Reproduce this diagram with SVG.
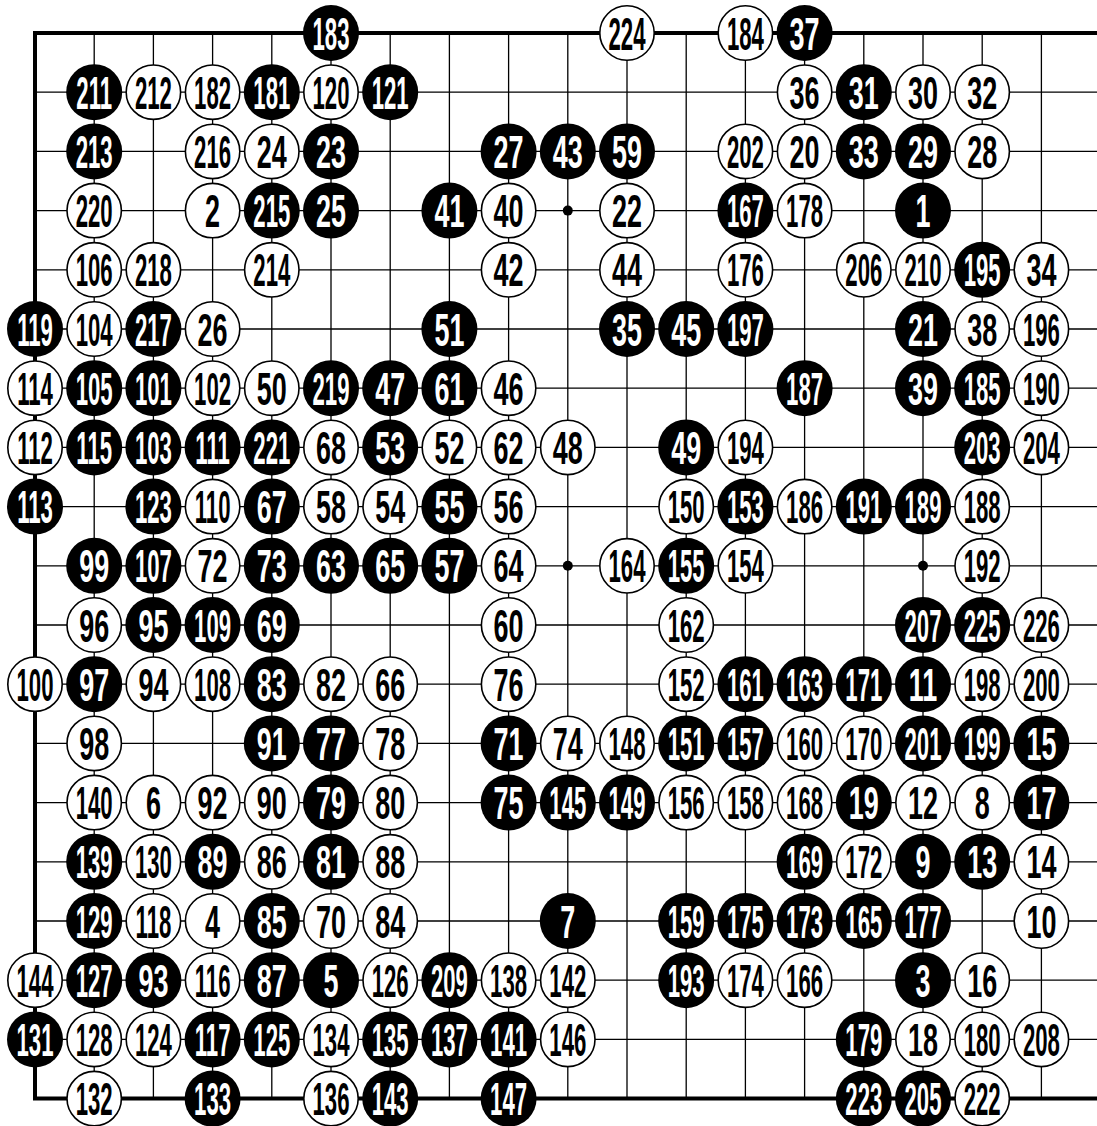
<svg xmlns="http://www.w3.org/2000/svg" width="1097" height="1126" viewBox="0 0 1097 1126">
<style>
.grid{fill:none;stroke:#000;stroke-width:1.3}
.edge{fill:none;stroke:#000;stroke-width:4}
.hoshi{fill:#000}
.b circle{fill:#000}
.w circle{fill:#fff;stroke:#000;stroke-width:1.6}
text{font-family:"Liberation Sans",Arial,sans-serif;font-weight:bold;font-size:46px;text-anchor:middle}
.b text{fill:#fff}
.w text{fill:#000}
.n1 text,.n2 text{transform:scale(0.586,1)}
.n3 text{transform:scale(0.482,1)}
</style>
<rect width="1097" height="1126" fill="#fff"/>
<g id="board">
<path class="grid" d="M35 92.2H1101M35 151.4H1101M35 210.6H1101M35 269.8H1101M35 329H1101M35 388.2H1101M35 447.4H1101M35 506.6H1101M35 565.8H1101M35 625H1101M35 684.2H1101M35 743.4H1101M35 802.6H1101M35 861.8H1101M35 921H1101M35 980.2H1101M35 1039.4H1101M94.2 33V1098.6M153.4 33V1098.6M212.6 33V1098.6M271.8 33V1098.6M331 33V1098.6M390.2 33V1098.6M449.4 33V1098.6M508.6 33V1098.6M567.8 33V1098.6M627 33V1098.6M686.2 33V1098.6M745.4 33V1098.6M804.6 33V1098.6M863.8 33V1098.6M923 33V1098.6M982.2 33V1098.6M1041.4 33V1098.6"/>
<path class="edge" d="M1104 33H35V1098.6H1104"/>
<circle class="hoshi" cx="212.6" cy="210.6" r="5"/><circle class="hoshi" cx="567.8" cy="210.6" r="5"/><circle class="hoshi" cx="923" cy="210.6" r="5"/>
<circle class="hoshi" cx="212.6" cy="565.8" r="5"/><circle class="hoshi" cx="567.8" cy="565.8" r="5"/><circle class="hoshi" cx="923" cy="565.8" r="5"/>
<circle class="hoshi" cx="212.6" cy="921" r="5"/><circle class="hoshi" cx="567.8" cy="921" r="5"/><circle class="hoshi" cx="923" cy="921" r="5"/>
</g>
<g id="stones">
<g id="m183" class="b n3" transform="translate(331,33)"><circle r="28"/><text y="16.5">183</text></g>
<g id="m224" class="w n3" transform="translate(627,33)"><circle r="27.2"/><text y="16.5">224</text></g>
<g id="m184" class="w n3" transform="translate(745.4,33)"><circle r="27.2"/><text y="16.5">184</text></g>
<g id="m37" class="b n2" transform="translate(804.6,33)"><circle r="28"/><text y="16.5">37</text></g>
<g id="m211" class="b n3" transform="translate(94.2,92.2)"><circle r="28"/><text y="16.5">211</text></g>
<g id="m212" class="w n3" transform="translate(153.4,92.2)"><circle r="27.2"/><text y="16.5">212</text></g>
<g id="m182" class="w n3" transform="translate(212.6,92.2)"><circle r="27.2"/><text y="16.5">182</text></g>
<g id="m181" class="b n3" transform="translate(271.8,92.2)"><circle r="28"/><text y="16.5">181</text></g>
<g id="m120" class="w n3" transform="translate(331,92.2)"><circle r="27.2"/><text y="16.5">120</text></g>
<g id="m121" class="b n3" transform="translate(390.2,92.2)"><circle r="28"/><text y="16.5">121</text></g>
<g id="m36" class="w n2" transform="translate(804.6,92.2)"><circle r="27.2"/><text y="16.5">36</text></g>
<g id="m31" class="b n2" transform="translate(863.8,92.2)"><circle r="28"/><text y="16.5">31</text></g>
<g id="m30" class="w n2" transform="translate(923,92.2)"><circle r="27.2"/><text y="16.5">30</text></g>
<g id="m32" class="w n2" transform="translate(982.2,92.2)"><circle r="27.2"/><text y="16.5">32</text></g>
<g id="m213" class="b n3" transform="translate(94.2,151.4)"><circle r="28"/><text y="16.5">213</text></g>
<g id="m216" class="w n3" transform="translate(212.6,151.4)"><circle r="27.2"/><text y="16.5">216</text></g>
<g id="m24" class="w n2" transform="translate(271.8,151.4)"><circle r="27.2"/><text y="16.5">24</text></g>
<g id="m23" class="b n2" transform="translate(331,151.4)"><circle r="28"/><text y="16.5">23</text></g>
<g id="m27" class="b n2" transform="translate(508.6,151.4)"><circle r="28"/><text y="16.5">27</text></g>
<g id="m43" class="b n2" transform="translate(567.8,151.4)"><circle r="28"/><text y="16.5">43</text></g>
<g id="m59" class="b n2" transform="translate(627,151.4)"><circle r="28"/><text y="16.5">59</text></g>
<g id="m202" class="w n3" transform="translate(745.4,151.4)"><circle r="27.2"/><text y="16.5">202</text></g>
<g id="m20" class="w n2" transform="translate(804.6,151.4)"><circle r="27.2"/><text y="16.5">20</text></g>
<g id="m33" class="b n2" transform="translate(863.8,151.4)"><circle r="28"/><text y="16.5">33</text></g>
<g id="m29" class="b n2" transform="translate(923,151.4)"><circle r="28"/><text y="16.5">29</text></g>
<g id="m28" class="w n2" transform="translate(982.2,151.4)"><circle r="27.2"/><text y="16.5">28</text></g>
<g id="m220" class="w n3" transform="translate(94.2,210.6)"><circle r="27.2"/><text y="16.5">220</text></g>
<g id="m2" class="w n1" transform="translate(212.6,210.6)"><circle r="27.2"/><text y="16.5">2</text></g>
<g id="m215" class="b n3" transform="translate(271.8,210.6)"><circle r="28"/><text y="16.5">215</text></g>
<g id="m25" class="b n2" transform="translate(331,210.6)"><circle r="28"/><text y="16.5">25</text></g>
<g id="m41" class="b n2" transform="translate(449.4,210.6)"><circle r="28"/><text y="16.5">41</text></g>
<g id="m40" class="w n2" transform="translate(508.6,210.6)"><circle r="27.2"/><text y="16.5">40</text></g>
<g id="m22" class="w n2" transform="translate(627,210.6)"><circle r="27.2"/><text y="16.5">22</text></g>
<g id="m167" class="b n3" transform="translate(745.4,210.6)"><circle r="28"/><text y="16.5">167</text></g>
<g id="m178" class="w n3" transform="translate(804.6,210.6)"><circle r="27.2"/><text y="16.5">178</text></g>
<g id="m1" class="b n1" transform="translate(923,210.6)"><circle r="28"/><text y="16.5">1</text></g>
<g id="m106" class="w n3" transform="translate(94.2,269.8)"><circle r="27.2"/><text y="16.5">106</text></g>
<g id="m218" class="w n3" transform="translate(153.4,269.8)"><circle r="27.2"/><text y="16.5">218</text></g>
<g id="m214" class="w n3" transform="translate(271.8,269.8)"><circle r="27.2"/><text y="16.5">214</text></g>
<g id="m42" class="w n2" transform="translate(508.6,269.8)"><circle r="27.2"/><text y="16.5">42</text></g>
<g id="m44" class="w n2" transform="translate(627,269.8)"><circle r="27.2"/><text y="16.5">44</text></g>
<g id="m176" class="w n3" transform="translate(745.4,269.8)"><circle r="27.2"/><text y="16.5">176</text></g>
<g id="m206" class="w n3" transform="translate(863.8,269.8)"><circle r="27.2"/><text y="16.5">206</text></g>
<g id="m210" class="w n3" transform="translate(923,269.8)"><circle r="27.2"/><text y="16.5">210</text></g>
<g id="m195" class="b n3" transform="translate(982.2,269.8)"><circle r="28"/><text y="16.5">195</text></g>
<g id="m34" class="w n2" transform="translate(1041.4,269.8)"><circle r="27.2"/><text y="16.5">34</text></g>
<g id="m119" class="b n3" transform="translate(35,329)"><circle r="28"/><text y="16.5">119</text></g>
<g id="m104" class="w n3" transform="translate(94.2,329)"><circle r="27.2"/><text y="16.5">104</text></g>
<g id="m217" class="b n3" transform="translate(153.4,329)"><circle r="28"/><text y="16.5">217</text></g>
<g id="m26" class="w n2" transform="translate(212.6,329)"><circle r="27.2"/><text y="16.5">26</text></g>
<g id="m51" class="b n2" transform="translate(449.4,329)"><circle r="28"/><text y="16.5">51</text></g>
<g id="m35" class="b n2" transform="translate(627,329)"><circle r="28"/><text y="16.5">35</text></g>
<g id="m45" class="b n2" transform="translate(686.2,329)"><circle r="28"/><text y="16.5">45</text></g>
<g id="m197" class="b n3" transform="translate(745.4,329)"><circle r="28"/><text y="16.5">197</text></g>
<g id="m21" class="b n2" transform="translate(923,329)"><circle r="28"/><text y="16.5">21</text></g>
<g id="m38" class="w n2" transform="translate(982.2,329)"><circle r="27.2"/><text y="16.5">38</text></g>
<g id="m196" class="w n3" transform="translate(1041.4,329)"><circle r="27.2"/><text y="16.5">196</text></g>
<g id="m114" class="w n3" transform="translate(35,388.2)"><circle r="27.2"/><text y="16.5">114</text></g>
<g id="m105" class="b n3" transform="translate(94.2,388.2)"><circle r="28"/><text y="16.5">105</text></g>
<g id="m101" class="b n3" transform="translate(153.4,388.2)"><circle r="28"/><text y="16.5">101</text></g>
<g id="m102" class="w n3" transform="translate(212.6,388.2)"><circle r="27.2"/><text y="16.5">102</text></g>
<g id="m50" class="w n2" transform="translate(271.8,388.2)"><circle r="27.2"/><text y="16.5">50</text></g>
<g id="m219" class="b n3" transform="translate(331,388.2)"><circle r="28"/><text y="16.5">219</text></g>
<g id="m47" class="b n2" transform="translate(390.2,388.2)"><circle r="28"/><text y="16.5">47</text></g>
<g id="m61" class="b n2" transform="translate(449.4,388.2)"><circle r="28"/><text y="16.5">61</text></g>
<g id="m46" class="w n2" transform="translate(508.6,388.2)"><circle r="27.2"/><text y="16.5">46</text></g>
<g id="m187" class="b n3" transform="translate(804.6,388.2)"><circle r="28"/><text y="16.5">187</text></g>
<g id="m39" class="b n2" transform="translate(923,388.2)"><circle r="28"/><text y="16.5">39</text></g>
<g id="m185" class="b n3" transform="translate(982.2,388.2)"><circle r="28"/><text y="16.5">185</text></g>
<g id="m190" class="w n3" transform="translate(1041.4,388.2)"><circle r="27.2"/><text y="16.5">190</text></g>
<g id="m112" class="w n3" transform="translate(35,447.4)"><circle r="27.2"/><text y="16.5">112</text></g>
<g id="m115" class="b n3" transform="translate(94.2,447.4)"><circle r="28"/><text y="16.5">115</text></g>
<g id="m103" class="b n3" transform="translate(153.4,447.4)"><circle r="28"/><text y="16.5">103</text></g>
<g id="m111" class="b n3" transform="translate(212.6,447.4)"><circle r="28"/><text y="16.5">111</text></g>
<g id="m221" class="b n3" transform="translate(271.8,447.4)"><circle r="28"/><text y="16.5">221</text></g>
<g id="m68" class="w n2" transform="translate(331,447.4)"><circle r="27.2"/><text y="16.5">68</text></g>
<g id="m53" class="b n2" transform="translate(390.2,447.4)"><circle r="28"/><text y="16.5">53</text></g>
<g id="m52" class="w n2" transform="translate(449.4,447.4)"><circle r="27.2"/><text y="16.5">52</text></g>
<g id="m62" class="w n2" transform="translate(508.6,447.4)"><circle r="27.2"/><text y="16.5">62</text></g>
<g id="m48" class="w n2" transform="translate(567.8,447.4)"><circle r="27.2"/><text y="16.5">48</text></g>
<g id="m49" class="b n2" transform="translate(686.2,447.4)"><circle r="28"/><text y="16.5">49</text></g>
<g id="m194" class="w n3" transform="translate(745.4,447.4)"><circle r="27.2"/><text y="16.5">194</text></g>
<g id="m203" class="b n3" transform="translate(982.2,447.4)"><circle r="28"/><text y="16.5">203</text></g>
<g id="m204" class="w n3" transform="translate(1041.4,447.4)"><circle r="27.2"/><text y="16.5">204</text></g>
<g id="m113" class="b n3" transform="translate(35,506.6)"><circle r="28"/><text y="16.5">113</text></g>
<g id="m123" class="b n3" transform="translate(153.4,506.6)"><circle r="28"/><text y="16.5">123</text></g>
<g id="m110" class="w n3" transform="translate(212.6,506.6)"><circle r="27.2"/><text y="16.5">110</text></g>
<g id="m67" class="b n2" transform="translate(271.8,506.6)"><circle r="28"/><text y="16.5">67</text></g>
<g id="m58" class="w n2" transform="translate(331,506.6)"><circle r="27.2"/><text y="16.5">58</text></g>
<g id="m54" class="w n2" transform="translate(390.2,506.6)"><circle r="27.2"/><text y="16.5">54</text></g>
<g id="m55" class="b n2" transform="translate(449.4,506.6)"><circle r="28"/><text y="16.5">55</text></g>
<g id="m56" class="w n2" transform="translate(508.6,506.6)"><circle r="27.2"/><text y="16.5">56</text></g>
<g id="m150" class="w n3" transform="translate(686.2,506.6)"><circle r="27.2"/><text y="16.5">150</text></g>
<g id="m153" class="b n3" transform="translate(745.4,506.6)"><circle r="28"/><text y="16.5">153</text></g>
<g id="m186" class="w n3" transform="translate(804.6,506.6)"><circle r="27.2"/><text y="16.5">186</text></g>
<g id="m191" class="b n3" transform="translate(863.8,506.6)"><circle r="28"/><text y="16.5">191</text></g>
<g id="m189" class="b n3" transform="translate(923,506.6)"><circle r="28"/><text y="16.5">189</text></g>
<g id="m188" class="w n3" transform="translate(982.2,506.6)"><circle r="27.2"/><text y="16.5">188</text></g>
<g id="m99" class="b n2" transform="translate(94.2,565.8)"><circle r="28"/><text y="16.5">99</text></g>
<g id="m107" class="b n3" transform="translate(153.4,565.8)"><circle r="28"/><text y="16.5">107</text></g>
<g id="m72" class="w n2" transform="translate(212.6,565.8)"><circle r="27.2"/><text y="16.5">72</text></g>
<g id="m73" class="b n2" transform="translate(271.8,565.8)"><circle r="28"/><text y="16.5">73</text></g>
<g id="m63" class="b n2" transform="translate(331,565.8)"><circle r="28"/><text y="16.5">63</text></g>
<g id="m65" class="b n2" transform="translate(390.2,565.8)"><circle r="28"/><text y="16.5">65</text></g>
<g id="m57" class="b n2" transform="translate(449.4,565.8)"><circle r="28"/><text y="16.5">57</text></g>
<g id="m64" class="w n2" transform="translate(508.6,565.8)"><circle r="27.2"/><text y="16.5">64</text></g>
<g id="m164" class="w n3" transform="translate(627,565.8)"><circle r="27.2"/><text y="16.5">164</text></g>
<g id="m155" class="b n3" transform="translate(686.2,565.8)"><circle r="28"/><text y="16.5">155</text></g>
<g id="m154" class="w n3" transform="translate(745.4,565.8)"><circle r="27.2"/><text y="16.5">154</text></g>
<g id="m192" class="w n3" transform="translate(982.2,565.8)"><circle r="27.2"/><text y="16.5">192</text></g>
<g id="m96" class="w n2" transform="translate(94.2,625)"><circle r="27.2"/><text y="16.5">96</text></g>
<g id="m95" class="b n2" transform="translate(153.4,625)"><circle r="28"/><text y="16.5">95</text></g>
<g id="m109" class="b n3" transform="translate(212.6,625)"><circle r="28"/><text y="16.5">109</text></g>
<g id="m69" class="b n2" transform="translate(271.8,625)"><circle r="28"/><text y="16.5">69</text></g>
<g id="m60" class="w n2" transform="translate(508.6,625)"><circle r="27.2"/><text y="16.5">60</text></g>
<g id="m162" class="w n3" transform="translate(686.2,625)"><circle r="27.2"/><text y="16.5">162</text></g>
<g id="m207" class="b n3" transform="translate(923,625)"><circle r="28"/><text y="16.5">207</text></g>
<g id="m225" class="b n3" transform="translate(982.2,625)"><circle r="28"/><text y="16.5">225</text></g>
<g id="m226" class="w n3" transform="translate(1041.4,625)"><circle r="27.2"/><text y="16.5">226</text></g>
<g id="m100" class="w n3" transform="translate(35,684.2)"><circle r="27.2"/><text y="16.5">100</text></g>
<g id="m97" class="b n2" transform="translate(94.2,684.2)"><circle r="28"/><text y="16.5">97</text></g>
<g id="m94" class="w n2" transform="translate(153.4,684.2)"><circle r="27.2"/><text y="16.5">94</text></g>
<g id="m108" class="w n3" transform="translate(212.6,684.2)"><circle r="27.2"/><text y="16.5">108</text></g>
<g id="m83" class="b n2" transform="translate(271.8,684.2)"><circle r="28"/><text y="16.5">83</text></g>
<g id="m82" class="w n2" transform="translate(331,684.2)"><circle r="27.2"/><text y="16.5">82</text></g>
<g id="m66" class="w n2" transform="translate(390.2,684.2)"><circle r="27.2"/><text y="16.5">66</text></g>
<g id="m76" class="w n2" transform="translate(508.6,684.2)"><circle r="27.2"/><text y="16.5">76</text></g>
<g id="m152" class="w n3" transform="translate(686.2,684.2)"><circle r="27.2"/><text y="16.5">152</text></g>
<g id="m161" class="b n3" transform="translate(745.4,684.2)"><circle r="28"/><text y="16.5">161</text></g>
<g id="m163" class="b n3" transform="translate(804.6,684.2)"><circle r="28"/><text y="16.5">163</text></g>
<g id="m171" class="b n3" transform="translate(863.8,684.2)"><circle r="28"/><text y="16.5">171</text></g>
<g id="m11" class="b n2" transform="translate(923,684.2)"><circle r="28"/><text y="16.5">11</text></g>
<g id="m198" class="w n3" transform="translate(982.2,684.2)"><circle r="27.2"/><text y="16.5">198</text></g>
<g id="m200" class="w n3" transform="translate(1041.4,684.2)"><circle r="27.2"/><text y="16.5">200</text></g>
<g id="m98" class="w n2" transform="translate(94.2,743.4)"><circle r="27.2"/><text y="16.5">98</text></g>
<g id="m91" class="b n2" transform="translate(271.8,743.4)"><circle r="28"/><text y="16.5">91</text></g>
<g id="m77" class="b n2" transform="translate(331,743.4)"><circle r="28"/><text y="16.5">77</text></g>
<g id="m78" class="w n2" transform="translate(390.2,743.4)"><circle r="27.2"/><text y="16.5">78</text></g>
<g id="m71" class="b n2" transform="translate(508.6,743.4)"><circle r="28"/><text y="16.5">71</text></g>
<g id="m74" class="w n2" transform="translate(567.8,743.4)"><circle r="27.2"/><text y="16.5">74</text></g>
<g id="m148" class="w n3" transform="translate(627,743.4)"><circle r="27.2"/><text y="16.5">148</text></g>
<g id="m151" class="b n3" transform="translate(686.2,743.4)"><circle r="28"/><text y="16.5">151</text></g>
<g id="m157" class="b n3" transform="translate(745.4,743.4)"><circle r="28"/><text y="16.5">157</text></g>
<g id="m160" class="w n3" transform="translate(804.6,743.4)"><circle r="27.2"/><text y="16.5">160</text></g>
<g id="m170" class="w n3" transform="translate(863.8,743.4)"><circle r="27.2"/><text y="16.5">170</text></g>
<g id="m201" class="b n3" transform="translate(923,743.4)"><circle r="28"/><text y="16.5">201</text></g>
<g id="m199" class="b n3" transform="translate(982.2,743.4)"><circle r="28"/><text y="16.5">199</text></g>
<g id="m15" class="b n2" transform="translate(1041.4,743.4)"><circle r="28"/><text y="16.5">15</text></g>
<g id="m140" class="w n3" transform="translate(94.2,802.6)"><circle r="27.2"/><text y="16.5">140</text></g>
<g id="m6" class="w n1" transform="translate(153.4,802.6)"><circle r="27.2"/><text y="16.5">6</text></g>
<g id="m92" class="w n2" transform="translate(212.6,802.6)"><circle r="27.2"/><text y="16.5">92</text></g>
<g id="m90" class="w n2" transform="translate(271.8,802.6)"><circle r="27.2"/><text y="16.5">90</text></g>
<g id="m79" class="b n2" transform="translate(331,802.6)"><circle r="28"/><text y="16.5">79</text></g>
<g id="m80" class="w n2" transform="translate(390.2,802.6)"><circle r="27.2"/><text y="16.5">80</text></g>
<g id="m75" class="b n2" transform="translate(508.6,802.6)"><circle r="28"/><text y="16.5">75</text></g>
<g id="m145" class="b n3" transform="translate(567.8,802.6)"><circle r="28"/><text y="16.5">145</text></g>
<g id="m149" class="b n3" transform="translate(627,802.6)"><circle r="28"/><text y="16.5">149</text></g>
<g id="m156" class="w n3" transform="translate(686.2,802.6)"><circle r="27.2"/><text y="16.5">156</text></g>
<g id="m158" class="w n3" transform="translate(745.4,802.6)"><circle r="27.2"/><text y="16.5">158</text></g>
<g id="m168" class="w n3" transform="translate(804.6,802.6)"><circle r="27.2"/><text y="16.5">168</text></g>
<g id="m19" class="b n2" transform="translate(863.8,802.6)"><circle r="28"/><text y="16.5">19</text></g>
<g id="m12" class="w n2" transform="translate(923,802.6)"><circle r="27.2"/><text y="16.5">12</text></g>
<g id="m8" class="w n1" transform="translate(982.2,802.6)"><circle r="27.2"/><text y="16.5">8</text></g>
<g id="m17" class="b n2" transform="translate(1041.4,802.6)"><circle r="28"/><text y="16.5">17</text></g>
<g id="m139" class="b n3" transform="translate(94.2,861.8)"><circle r="28"/><text y="16.5">139</text></g>
<g id="m130" class="w n3" transform="translate(153.4,861.8)"><circle r="27.2"/><text y="16.5">130</text></g>
<g id="m89" class="b n2" transform="translate(212.6,861.8)"><circle r="28"/><text y="16.5">89</text></g>
<g id="m86" class="w n2" transform="translate(271.8,861.8)"><circle r="27.2"/><text y="16.5">86</text></g>
<g id="m81" class="b n2" transform="translate(331,861.8)"><circle r="28"/><text y="16.5">81</text></g>
<g id="m88" class="w n2" transform="translate(390.2,861.8)"><circle r="27.2"/><text y="16.5">88</text></g>
<g id="m169" class="b n3" transform="translate(804.6,861.8)"><circle r="28"/><text y="16.5">169</text></g>
<g id="m172" class="w n3" transform="translate(863.8,861.8)"><circle r="27.2"/><text y="16.5">172</text></g>
<g id="m9" class="b n1" transform="translate(923,861.8)"><circle r="28"/><text y="16.5">9</text></g>
<g id="m13" class="b n2" transform="translate(982.2,861.8)"><circle r="28"/><text y="16.5">13</text></g>
<g id="m14" class="w n2" transform="translate(1041.4,861.8)"><circle r="27.2"/><text y="16.5">14</text></g>
<g id="m129" class="b n3" transform="translate(94.2,921)"><circle r="28"/><text y="16.5">129</text></g>
<g id="m118" class="w n3" transform="translate(153.4,921)"><circle r="27.2"/><text y="16.5">118</text></g>
<g id="m4" class="w n1" transform="translate(212.6,921)"><circle r="27.2"/><text y="16.5">4</text></g>
<g id="m85" class="b n2" transform="translate(271.8,921)"><circle r="28"/><text y="16.5">85</text></g>
<g id="m70" class="w n2" transform="translate(331,921)"><circle r="27.2"/><text y="16.5">70</text></g>
<g id="m84" class="w n2" transform="translate(390.2,921)"><circle r="27.2"/><text y="16.5">84</text></g>
<g id="m7" class="b n1" transform="translate(567.8,921)"><circle r="28"/><text y="16.5">7</text></g>
<g id="m159" class="b n3" transform="translate(686.2,921)"><circle r="28"/><text y="16.5">159</text></g>
<g id="m175" class="b n3" transform="translate(745.4,921)"><circle r="28"/><text y="16.5">175</text></g>
<g id="m173" class="b n3" transform="translate(804.6,921)"><circle r="28"/><text y="16.5">173</text></g>
<g id="m165" class="b n3" transform="translate(863.8,921)"><circle r="28"/><text y="16.5">165</text></g>
<g id="m177" class="b n3" transform="translate(923,921)"><circle r="28"/><text y="16.5">177</text></g>
<g id="m10" class="w n2" transform="translate(1041.4,921)"><circle r="27.2"/><text y="16.5">10</text></g>
<g id="m144" class="w n3" transform="translate(35,980.2)"><circle r="27.2"/><text y="16.5">144</text></g>
<g id="m127" class="b n3" transform="translate(94.2,980.2)"><circle r="28"/><text y="16.5">127</text></g>
<g id="m93" class="b n2" transform="translate(153.4,980.2)"><circle r="28"/><text y="16.5">93</text></g>
<g id="m116" class="w n3" transform="translate(212.6,980.2)"><circle r="27.2"/><text y="16.5">116</text></g>
<g id="m87" class="b n2" transform="translate(271.8,980.2)"><circle r="28"/><text y="16.5">87</text></g>
<g id="m5" class="b n1" transform="translate(331,980.2)"><circle r="28"/><text y="16.5">5</text></g>
<g id="m126" class="w n3" transform="translate(390.2,980.2)"><circle r="27.2"/><text y="16.5">126</text></g>
<g id="m209" class="b n3" transform="translate(449.4,980.2)"><circle r="28"/><text y="16.5">209</text></g>
<g id="m138" class="w n3" transform="translate(508.6,980.2)"><circle r="27.2"/><text y="16.5">138</text></g>
<g id="m142" class="w n3" transform="translate(567.8,980.2)"><circle r="27.2"/><text y="16.5">142</text></g>
<g id="m193" class="b n3" transform="translate(686.2,980.2)"><circle r="28"/><text y="16.5">193</text></g>
<g id="m174" class="w n3" transform="translate(745.4,980.2)"><circle r="27.2"/><text y="16.5">174</text></g>
<g id="m166" class="w n3" transform="translate(804.6,980.2)"><circle r="27.2"/><text y="16.5">166</text></g>
<g id="m3" class="b n1" transform="translate(923,980.2)"><circle r="28"/><text y="16.5">3</text></g>
<g id="m16" class="w n2" transform="translate(982.2,980.2)"><circle r="27.2"/><text y="16.5">16</text></g>
<g id="m131" class="b n3" transform="translate(35,1039.4)"><circle r="28"/><text y="16.5">131</text></g>
<g id="m128" class="w n3" transform="translate(94.2,1039.4)"><circle r="27.2"/><text y="16.5">128</text></g>
<g id="m124" class="w n3" transform="translate(153.4,1039.4)"><circle r="27.2"/><text y="16.5">124</text></g>
<g id="m117" class="b n3" transform="translate(212.6,1039.4)"><circle r="28"/><text y="16.5">117</text></g>
<g id="m125" class="b n3" transform="translate(271.8,1039.4)"><circle r="28"/><text y="16.5">125</text></g>
<g id="m134" class="w n3" transform="translate(331,1039.4)"><circle r="27.2"/><text y="16.5">134</text></g>
<g id="m135" class="b n3" transform="translate(390.2,1039.4)"><circle r="28"/><text y="16.5">135</text></g>
<g id="m137" class="b n3" transform="translate(449.4,1039.4)"><circle r="28"/><text y="16.5">137</text></g>
<g id="m141" class="b n3" transform="translate(508.6,1039.4)"><circle r="28"/><text y="16.5">141</text></g>
<g id="m146" class="w n3" transform="translate(567.8,1039.4)"><circle r="27.2"/><text y="16.5">146</text></g>
<g id="m179" class="b n3" transform="translate(863.8,1039.4)"><circle r="28"/><text y="16.5">179</text></g>
<g id="m18" class="w n2" transform="translate(923,1039.4)"><circle r="27.2"/><text y="16.5">18</text></g>
<g id="m180" class="w n3" transform="translate(982.2,1039.4)"><circle r="27.2"/><text y="16.5">180</text></g>
<g id="m208" class="w n3" transform="translate(1041.4,1039.4)"><circle r="27.2"/><text y="16.5">208</text></g>
<g id="m132" class="w n3" transform="translate(94.2,1098.6)"><circle r="27.2"/><text y="16.5">132</text></g>
<g id="m133" class="b n3" transform="translate(212.6,1098.6)"><circle r="28"/><text y="16.5">133</text></g>
<g id="m136" class="w n3" transform="translate(331,1098.6)"><circle r="27.2"/><text y="16.5">136</text></g>
<g id="m143" class="b n3" transform="translate(390.2,1098.6)"><circle r="28"/><text y="16.5">143</text></g>
<g id="m147" class="b n3" transform="translate(508.6,1098.6)"><circle r="28"/><text y="16.5">147</text></g>
<g id="m223" class="b n3" transform="translate(863.8,1098.6)"><circle r="28"/><text y="16.5">223</text></g>
<g id="m205" class="b n3" transform="translate(923,1098.6)"><circle r="28"/><text y="16.5">205</text></g>
<g id="m222" class="w n3" transform="translate(982.2,1098.6)"><circle r="27.2"/><text y="16.5">222</text></g>
</g>
</svg>
